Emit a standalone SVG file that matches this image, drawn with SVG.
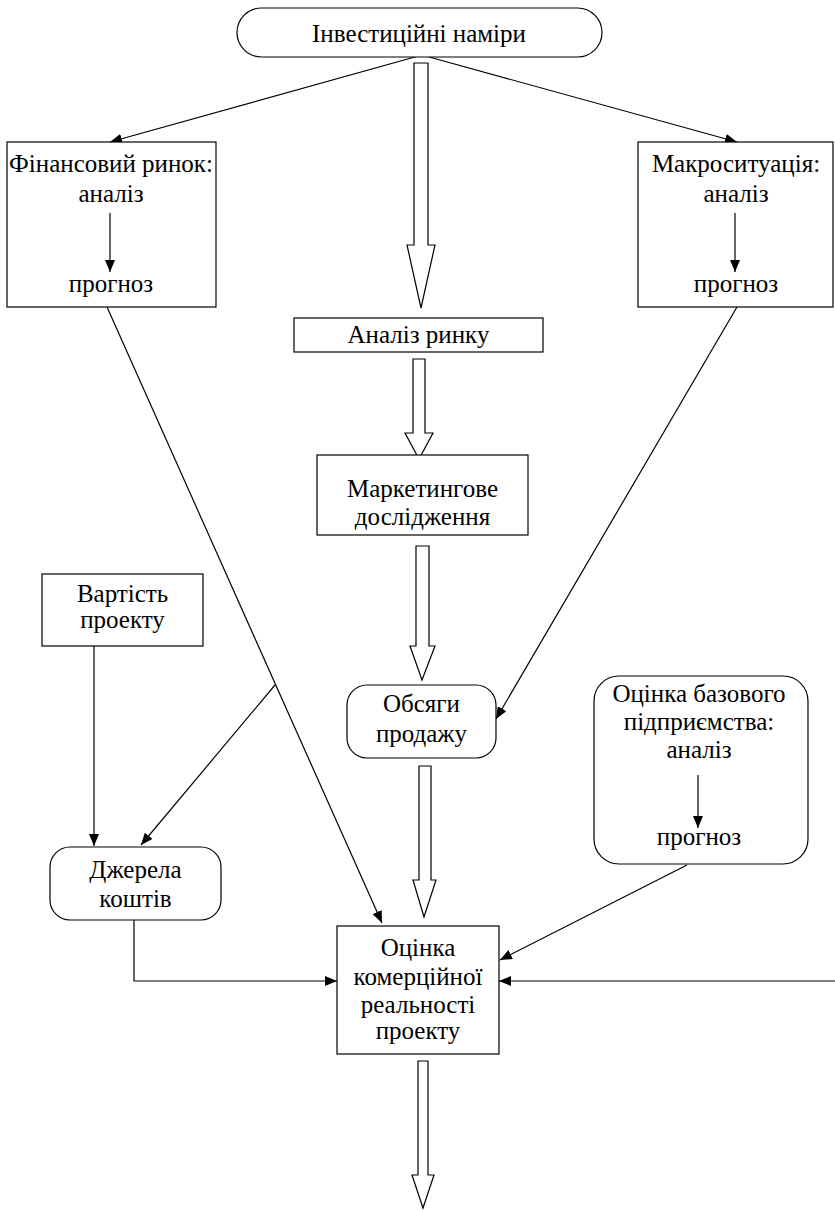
<svg xmlns="http://www.w3.org/2000/svg" width="835" height="1210" viewBox="0 0 835 1210">
<style>
.b{fill:#fff;stroke:#000;stroke-width:1.2}
.l{fill:none;stroke:#000;stroke-width:1.2}
.ba{fill:#fff;stroke:#000;stroke-width:1.2;stroke-linejoin:miter}
</style>
<defs>
<marker id="ah" markerUnits="userSpaceOnUse" markerWidth="12" markerHeight="10" refX="12" refY="5" orient="auto">
<path d="M0,0 L12,5 L0,10 Z" fill="#000"/>
</marker>
</defs>
<rect width="835" height="1210" fill="#fff"/>
<g id="connectors">
<path class="l" d="M422,55 L110,142" marker-end="url(#ah)"/>
<path class="l" d="M422,55 L737,142" marker-end="url(#ah)"/>
<polygon class="ba" points="414,63 428,63 428,245 435,245 421,308 407,245 414,245"/>
<polygon class="ba" points="413,359 425,359 425,433 433,433 419,459 405,433 413,433"/>
<polygon class="ba" points="416,546 429,546 429,646 435,646 422,680 410,646 416,646"/>
<polygon class="ba" points="419,766 431,766 431,880 436,880 424,917 413,880 419,880"/>
<polygon class="ba" points="418,1061 428,1061 428,1175 434,1175 423,1208 412,1175 418,1175"/>
<path class="l" d="M107,307 L382,923" marker-end="url(#ah)"/>
<path class="l" d="M275,685 L141,845" marker-end="url(#ah)"/>
<path class="l" d="M737,307 L496,719" marker-end="url(#ah)"/>
<path class="l" d="M94,646 L94,846" marker-end="url(#ah)"/>
<path class="l" d="M134,920 L134,981 L337,981" marker-end="url(#ah)"/>
<path class="l" d="M835,981 L499,981" marker-end="url(#ah)"/>
<path class="l" d="M687,865 L500,960" marker-end="url(#ah)"/>
</g>
<g id="nodes" font-family="Liberation Serif, Times New Roman, serif" font-size="25" text-anchor="middle" fill="#000">
<g id="n-invest">
<rect class="b" x="237" y="8" width="365" height="49" rx="24.5"/>
<text x="419" y="42">Інвестиційні наміри</text>
</g>
<g id="n-fin">
<rect class="b" x="7" y="142" width="209" height="165"/>
<text x="111" y="172">Фінансовий ринок:</text>
<text x="111" y="202">аналіз</text>
<path class="l" d="M110,213 L110,272" marker-end="url(#ah)"/>
<text x="111" y="292">прогноз</text>
</g>
<g id="n-macro">
<rect class="b" x="638" y="142" width="195" height="165"/>
<text x="736" y="172">Макроситуація:</text>
<text x="736" y="202">аналіз</text>
<path class="l" d="M735,213 L735,272" marker-end="url(#ah)"/>
<text x="736" y="292">прогноз</text>
</g>
<g id="n-market">
<rect class="b" x="294" y="318" width="249" height="34"/>
<text x="418.5" y="343">Аналіз ринку</text>
</g>
<g id="n-research">
<rect class="b" x="317" y="455" width="211" height="80"/>
<text x="422.5" y="497">Маркетингове</text>
<text x="422.5" y="525">дослідження</text>
</g>
<g id="n-cost">
<rect class="b" x="42" y="574" width="161" height="72"/>
<text x="122.5" y="602">Вартість</text>
<text x="122.5" y="628">проекту</text>
</g>
<g id="n-sales">
<rect class="b" x="347" y="685" width="149" height="73" rx="20"/>
<text x="421.5" y="712">Обсяги</text>
<text x="421.5" y="742">продажу</text>
</g>
<g id="n-base">
<rect class="b" x="594" y="676" width="214" height="188" rx="25"/>
<text x="699" y="702">Оцінка базового</text>
<text x="699" y="730">підприємства:</text>
<text x="699" y="758">аналіз</text>
<path class="l" d="M698,775 L698,828" marker-end="url(#ah)"/>
<text x="699" y="845">прогноз</text>
</g>
<g id="n-sources">
<rect class="b" x="50" y="847" width="171" height="73" rx="20"/>
<text x="135.5" y="878">Джерела</text>
<text x="135.5" y="907">коштів</text>
</g>
<g id="n-eval">
<rect class="b" x="337" y="926" width="162" height="128"/>
<text x="418" y="956">Оцінка</text>
<text x="418" y="985">комерційної</text>
<text x="418" y="1013">реальності</text>
<text x="418" y="1039">проекту</text>
</g>
</g>
</svg>
